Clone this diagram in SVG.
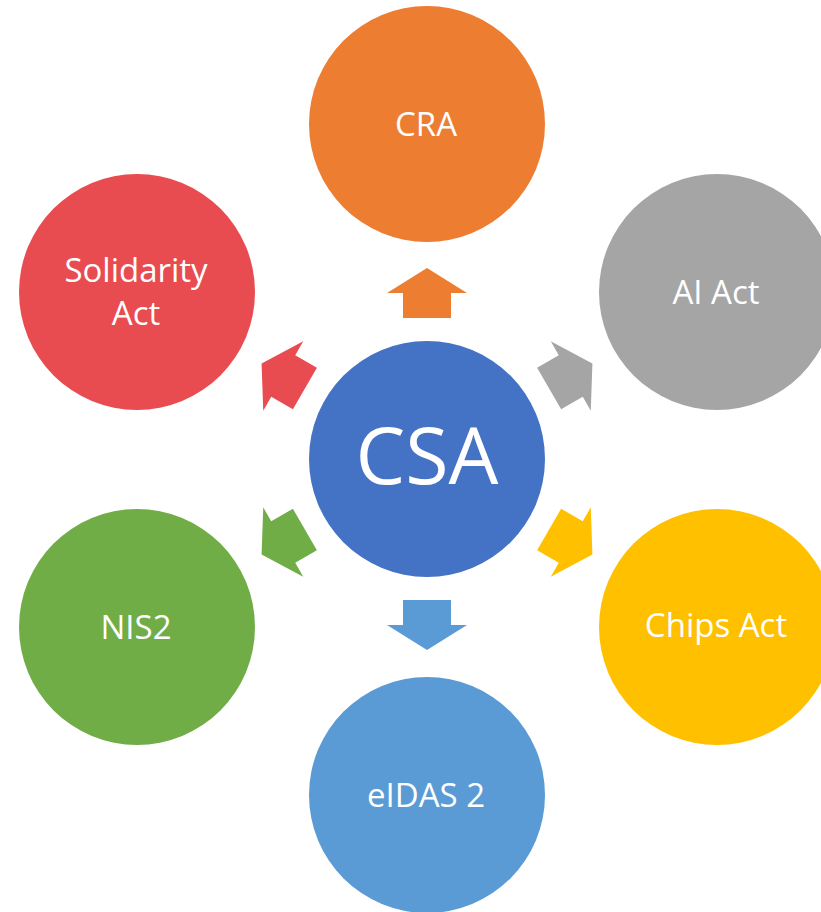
<svg xmlns="http://www.w3.org/2000/svg" width="821" height="912" viewBox="0 0 821 912">
<defs>
<style>
.lbl{font-family:"Open Sans","Liberation Sans",sans-serif;font-size:33px;fill:#fff;text-anchor:middle}
.big{font-family:"Open Sans","Liberation Sans",sans-serif;font-size:79px;fill:#fff;text-anchor:middle}
</style>
<polygon id="arr" points="-24,-141 -24,-166 -40,-166 0,-191 40,-166 24,-166 24,-141"/>
</defs>
<rect width="821" height="912" fill="#fff"/>
<g id="connectors" transform="translate(427,459)">
<use href="#arr" fill="#ED7D31"/>
<use href="#arr" fill="#A5A5A5" transform="rotate(60)"/>
<use href="#arr" fill="#FFC000" transform="rotate(120)"/>
<use href="#arr" fill="#5B9BD5" transform="rotate(180)"/>
<use href="#arr" fill="#70AD47" transform="rotate(240)"/>
<use href="#arr" fill="#E94C50" transform="rotate(300)"/>
</g>
<g id="csa"><circle cx="427" cy="459" r="118" fill="#4472C4"/><text class="big" x="427" y="484">CSA</text></g>
<g id="cra"><circle cx="427" cy="124" r="118" fill="#ED7D31"/><text class="lbl" x="426" y="136">CRA</text></g>
<g id="aiact"><circle cx="717" cy="292" r="118" fill="#A5A5A5"/><text class="lbl" x="716" y="304">AI Act</text></g>
<g id="chipsact"><circle cx="717" cy="627" r="118" fill="#FFC000"/><text class="lbl" x="716" y="637">Chips Act</text></g>
<g id="eidas2"><circle cx="427" cy="795" r="118" fill="#5B9BD5"/><text class="lbl" x="426" y="807">eIDAS 2</text></g>
<g id="nis2"><circle cx="137" cy="627" r="118" fill="#70AD47"/><text class="lbl" x="136" y="639">NIS2</text></g>
<g id="solidarity"><circle cx="137" cy="292" r="118" fill="#E94C50"/><text class="lbl" x="136" y="282">Solidarity</text><text class="lbl" x="136" y="325">Act</text></g>
</svg>
